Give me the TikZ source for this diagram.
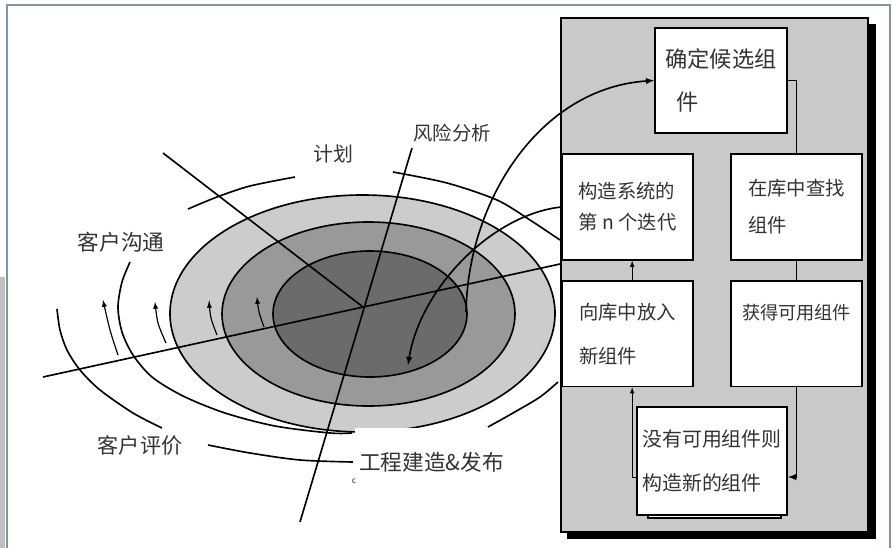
\documentclass[tikz,border=0pt]{standalone}
\usepackage{fontspec}
\setmainfont{Noto Sans CJK SC}
\usetikzlibrary{positioning}

\definecolor{frameblue}{RGB}{124,149,178}
\definecolor{ringlight}{gray}{0.80}
\definecolor{ringmid}{gray}{0.60}
\definecolor{ringdark}{gray}{0.42}
\definecolor{panelgray}{gray}{0.79}

\tikzstyle{compbox} = [rectangle, draw, fill=white, line width=1.5pt, align=left, text=black!80, inner sep=0pt, minimum width=3.93cm, minimum height=3.17cm, font=\fontsize{16.5}{26.5}\selectfont]
\tikzstyle{line} = [draw, -latex, line width=1.4pt]
\tikzstyle{spiral} = [draw, line width=1.4pt]
\tikzstyle{lbl} = [text=black!80, inner sep=0pt]

\begin{document}
\begin{tikzpicture}[x=0.03cm, y=-0.03cm]
    \useasboundingbox (0,0) rectangle (893,548);
    % frame
    \fill[gray!50] (0,277) rectangle (5,548);
    \draw[frameblue, line width=2pt] (7,548) -- (7,5) -- (890,5) -- (890,548);

    % rings
    \draw[spiral, fill=ringlight] (362.5,313.5) ellipse [x radius=192.5, y radius=118.5];
    \draw[spiral, fill=ringmid] (368.5,314) ellipse [x radius=146.5, y radius=92];
    \draw[spiral, fill=ringdark] (370,314) ellipse [x radius=97, y radius=63];

    % axes
    \draw[spiral] (163,153) -- (363,307);
    \draw[spiral] (43,377) -- (560,264);
    \draw[spiral] (412,148) -- (300,522);

    % open arcs
    \draw[spiral] plot[smooth] coordinates {(188,209) (217,197) (250,186) (295,177)};
    \draw[spiral] plot[smooth] coordinates {(393,172) (447,183) (497,200) (530,220) (560,240)};
    \draw[spiral] plot[smooth] coordinates {(57,309) (60,330) (67,350) (80,370) (100,390) (133,413) (162,428)};
    \draw[spiral] plot[smooth] coordinates {(208,445) (250,453) (300,460) (353,462)};
    \draw[spiral] plot[smooth] coordinates {(488,427) (513,413) (540,397) (558,382)};
    \draw[spiral] plot[smooth] coordinates {(130,262) (122,282) (118,307) (122,332) (133,355) (152,377) (183,396) (225,413) (275,426) (330,433) (352,433)};

    % small arrows
    \draw[line, line width=1pt] plot[smooth] coordinates {(118,355) (110,330) (103,300)};
    \draw[line, line width=1pt] plot[smooth] coordinates {(166,343) (158,323) (155,302)};
    \draw[line, line width=1pt] plot[smooth] coordinates {(217,335) (211,318) (209,301)};
    \draw[line, line width=1pt] plot[smooth] coordinates {(264,327) (259,312) (257,297)};

    % labels
    \node[lbl, font=\fontsize{17}{20}\selectfont] (PlanLbl) at (333,154) {计划};
    \node[lbl, font=\fontsize{16.5}{20}\selectfont] (RiskLbl) at (452,133) {风险分析};
    \node[lbl, font=\fontsize{18.5}{22}\selectfont] (CommLbl) at (121,242) {客户沟通};
    \node[lbl, font=\fontsize{18}{22}\selectfont] (EvalLbl) at (140,445) {客户评价};
    \fill[white] (355,428) rectangle (525,513);
    \node[lbl, anchor=west, font=\fontsize{18.5}{22}\selectfont] (EngLbl) at (359,462) {工程建造\&发布};
    \node[lbl, font=\fontsize{7}{8}\selectfont] (StrayMark) at (354,481) {c};

    % panel
    \fill[black] (567,24) rectangle (876,539);
    \draw[fill=panelgray, line width=1.2pt] (561,18) rectangle (868,532);

    \node[compbox, minimum width=3.96cm, minimum height=3.15cm, font=\fontsize{19}{36.7}\selectfont]
            (CandComp) at (721,80.5) {确定候选组\\\hspace*{0.5em}件};
    \node[compbox] (BuildIter) at (627.5,207) {构造系统的\\第 n 个迭代};
    \node[compbox, right of=BuildIter, node distance=5.07cm, font=\fontsize{16.5}{31.6}\selectfont]
            (SearchLib) {在库中查找\\组件};
    \node[compbox, below of=BuildIter, node distance=3.8cm, font=\fontsize{16.5}{37.6}\selectfont]
            (PutLib) {向库中放入\\新组件};
    \node[compbox, right of=PutLib, node distance=5.07cm, font=\fontsize{15.5}{36.7}\selectfont]
            (GetComp) {获得可用组件\\\mbox{}};
    \draw[fill=white, line width=1pt] (648,505) rectangle (781,518);
    \node[compbox, minimum width=4.5cm, minimum height=3.24cm, font=\fontsize{17}{37.6}\selectfont]
            (MakeNew) at (712,461) {没有可用组件则\\构造新的组件};

    \path[draw, line width=1.5pt] (CandComp.east) -| (SearchLib.north);
    \path[draw, line width=1.5pt] (SearchLib) -- (GetComp);
    \path[line, line width=1.5pt] (GetComp.south) |- ([yshift=-0.48cm]MakeNew.east);
    \path[line, line width=0.8pt] ([yshift=-0.48cm]MakeNew.west) -| ([xshift=0.14cm]PutLib.south);
    \path[line, line width=0.8pt] ([xshift=0.14cm]PutLib.north) -- ([xshift=0.14cm]BuildIter.south);

    % curves into the spiral
    \coordinate (InnerEdge) at (466,312);
    \coordinate (InnerTip) at (408,365);
    \path[line] (InnerEdge) .. controls (468,200) and (540,88) .. (CandComp.west);
    \path[line] (BuildIter.west) .. controls (490,215) and (420,290) .. (InnerTip);
\end{tikzpicture}
\end{document}
